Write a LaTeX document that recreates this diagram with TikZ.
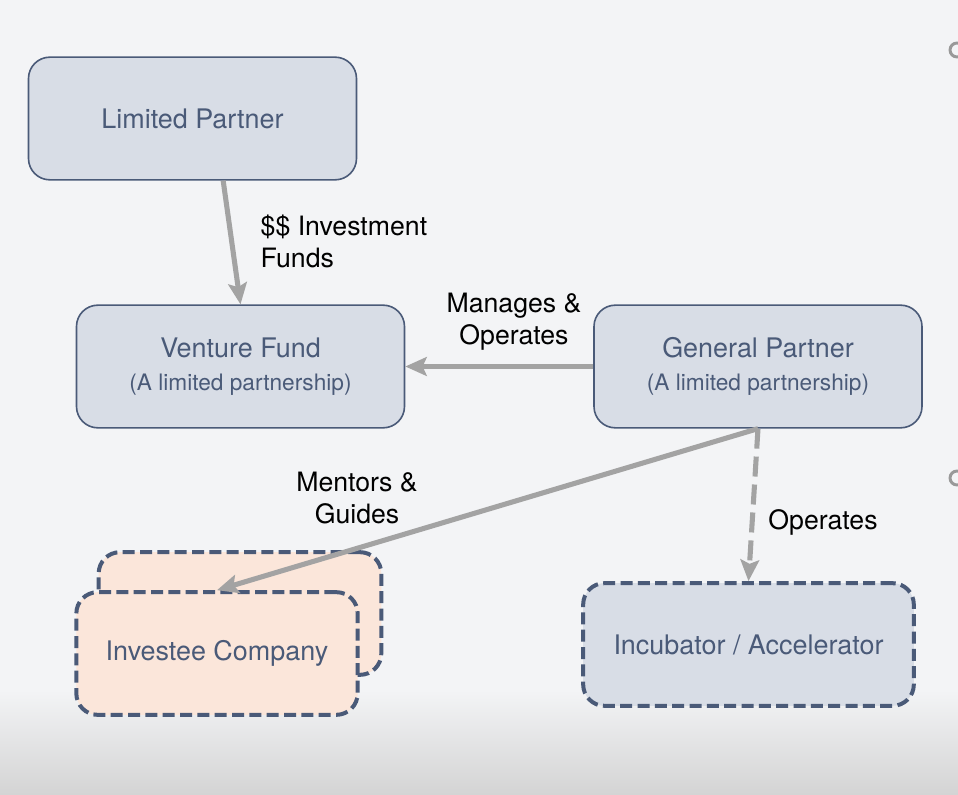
\documentclass[tikz,border=0pt]{standalone}
\usepackage{fontspec}
\setmainfont{TeX Gyre Heros}
\usepackage{xcolor}
\usetikzlibrary{arrows.meta}
\definecolor{boxfill}{HTML}{D8DDE6}
\definecolor{boxline}{HTML}{4A5A78}
\definecolor{peach}{HTML}{FBE6DA}
\definecolor{arrowgray}{HTML}{A3A3A3}
\definecolor{paper}{HTML}{F3F4F6}
\newcommand{\subline}[1]{{\fontsize{17}{19}\selectfont #1}}

\begin{document}
\begin{tikzpicture}[x=0.75pt,y=-0.75pt,
    party/.style={draw=boxline,line width=1.2pt,fill=boxfill,rounded corners=16pt,
        minimum width=246pt,minimum height=92pt,align=center,text=boxline,
        font=\fontsize{20.2}{25}\selectfont},
    dashbox/.style={party,line width=3pt,dash pattern=on 9pt off 4pt},
    flow/.style={draw=arrowgray,line width=3.8pt,-{Stealth[length=16pt,width=14pt,inset=3pt]}},
    lbl/.style={align=center,font=\fontsize{20}{24}\selectfont}]
    \useasboundingbox (0,0) rectangle (958,795);
    \fill[paper] (0,0) rectangle (958,795);
    \shade[top color=paper,bottom color=black!17] (0,690) rectangle (958,795);
    \draw[black!40,line width=2.2pt] (957,50) circle (7) (957,478) circle (7);

    \node[party] (lp) at (192.5,118.5) {Limited Partner};
    \node[party] (vf) at (240.5,366.5) {Venture Fund\\\subline{(A limited partnership)}};
    \node[party] (gp) at (758,366.5) {General Partner\\\subline{(A limited partnership)}};
    \node[dashbox,fill=peach,minimum width=212pt] (invb) at (240,613.5) {};
    \node[dashbox,fill=peach,minimum width=211pt] (inv) at (217,653.5) {Investee Company};
    \node[dashbox,minimum width=248pt] (inc) at (748.5,644.5) {Incubator / Accelerator};

    \draw[flow] ([xshift=23pt]lp.south) -- (vf.north);
    \draw[flow] (gp.west) -- (vf.east);
    \draw[flow] (gp.south) -- (inv.north);
    \draw[flow,dash pattern=on 15pt off 6pt] (gp.south) -- (inc.north);

    \node[lbl,align=left,anchor=west] (funds) at (256,241) {\$\$ Investment\\Funds};
    \node[lbl] (manages) at (514,322) {Manages \&\\Operates};
    \node[lbl] (mentors) at (357,498) {Mentors \&\\Guides};
    \node[lbl] (operates) at (823,522) {Operates};
\end{tikzpicture}
\end{document}
